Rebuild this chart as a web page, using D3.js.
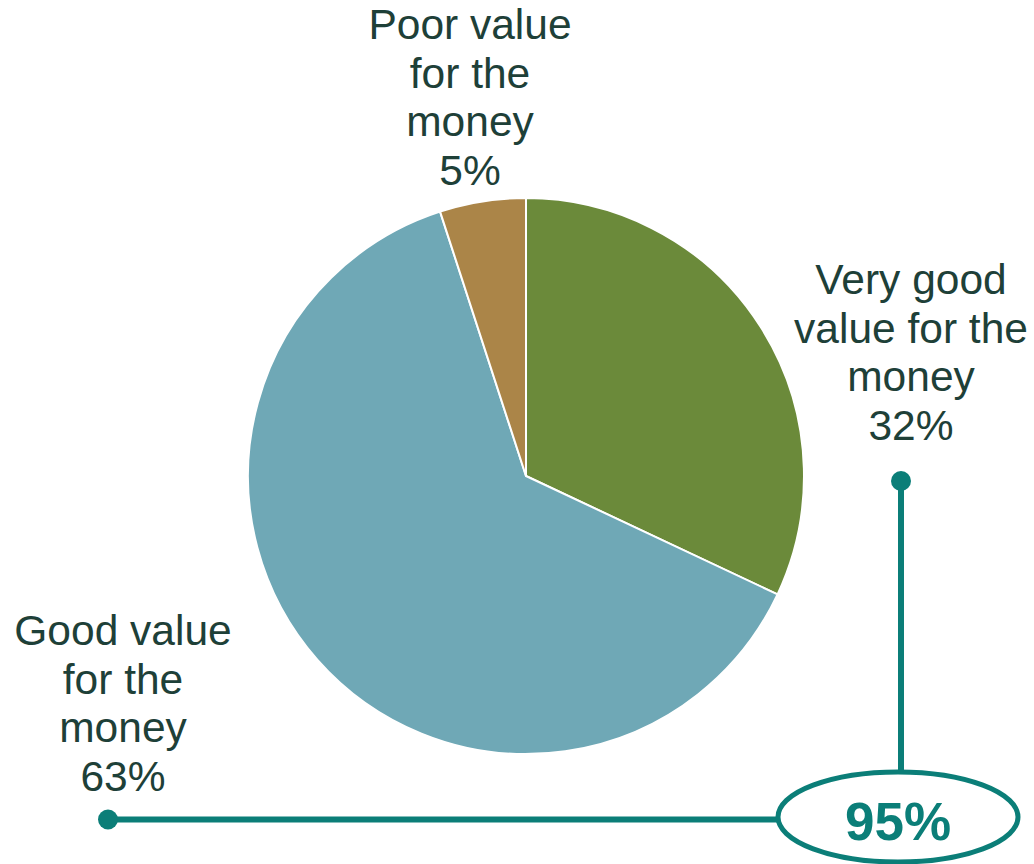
<!DOCTYPE html>
<html>
<head>
<meta charset="utf-8">
<script src="https://cdn.jsdelivr.net/npm/d3@7"></script>
<style>
  html, body { margin: 0; padding: 0; background: #ffffff; }
  svg { display: block; }
  text { font-family: "Liberation Sans", Arial, sans-serif; }
</style>
</head>
<body>
<svg id="chart" width="1034" height="864"></svg>
<script>
// ---- data ----
const categories = ["Very good value for the money", "Good value for the money", "Poor value for the money"];
const values = [32, 63, 5];
const labelLines = [
  ["Very good", "value for the", "money", "32%"],
  ["Good value", "for the", "money", "63%"],
  ["Poor value", "for the", "money", "5%"]
];
const totalLabel = "95%";

// ---- layout / style ----
const colors = ["#6b8a3a", "#6fa8b6", "#ab8548"];
const textColor = "#1e4038";
const teal = "#0b7e78";
const cx = 526, cy = 476, radius = 278;
const labelAnchors = [ [911, 294], [123, 645], [470, 39] ]; // first-line baseline
const lineGap = 48.7;

const svg = d3.select("#chart");

const pie = d3.pie().sort(null).value(d => d).startAngle(0).endAngle(2 * Math.PI);
const arc = d3.arc().innerRadius(0).outerRadius(radius);

const g = svg.append("g").attr("transform", `translate(${cx},${cy})`);
g.selectAll("path")
  .data(pie(values))
  .join("path")
  .attr("d", arc)
  .attr("fill", (d, i) => colors[i])
  .attr("stroke", "#ffffff")
  .attr("stroke-width", 2)
  .attr("stroke-linejoin", "round");

// labels
labelLines.forEach((lines, i) => {
  const t = svg.append("text")
    .attr("text-anchor", "middle")
    .attr("fill", textColor)
    .attr("font-size", 42.5);
  lines.forEach((ln, j) => {
    t.append("tspan")
      .attr("x", labelAnchors[i][0])
      .attr("y", labelAnchors[i][1] + j * lineGap)
      .text(ln);
  });
});

// annotation connector
const ell = { cx: 898, cy: 817, rx: 120, ry: 45 };
svg.append("line")
  .attr("x1", 901).attr("y1", 481)
  .attr("x2", 901).attr("y2", ell.cy - ell.ry)
  .attr("stroke", teal).attr("stroke-width", 6);
svg.append("line")
  .attr("x1", 108).attr("y1", 819.5)
  .attr("x2", ell.cx - ell.rx).attr("y2", 819.5)
  .attr("stroke", teal).attr("stroke-width", 6);
svg.append("circle").attr("cx", 901).attr("cy", 481).attr("r", 10).attr("fill", teal);
svg.append("circle").attr("cx", 108).attr("cy", 819.5).attr("r", 10).attr("fill", teal);
svg.append("ellipse")
  .attr("cx", ell.cx).attr("cy", ell.cy)
  .attr("rx", ell.rx).attr("ry", ell.ry)
  .attr("fill", "#ffffff")
  .attr("stroke", teal).attr("stroke-width", 5);
svg.append("text")
  .attr("x", ell.cx).attr("y", 840)
  .attr("text-anchor", "middle")
  .attr("font-size", 53)
  .attr("font-weight", "bold")
  .attr("fill", teal)
  .text(totalLabel);
</script>
</body>
</html>
